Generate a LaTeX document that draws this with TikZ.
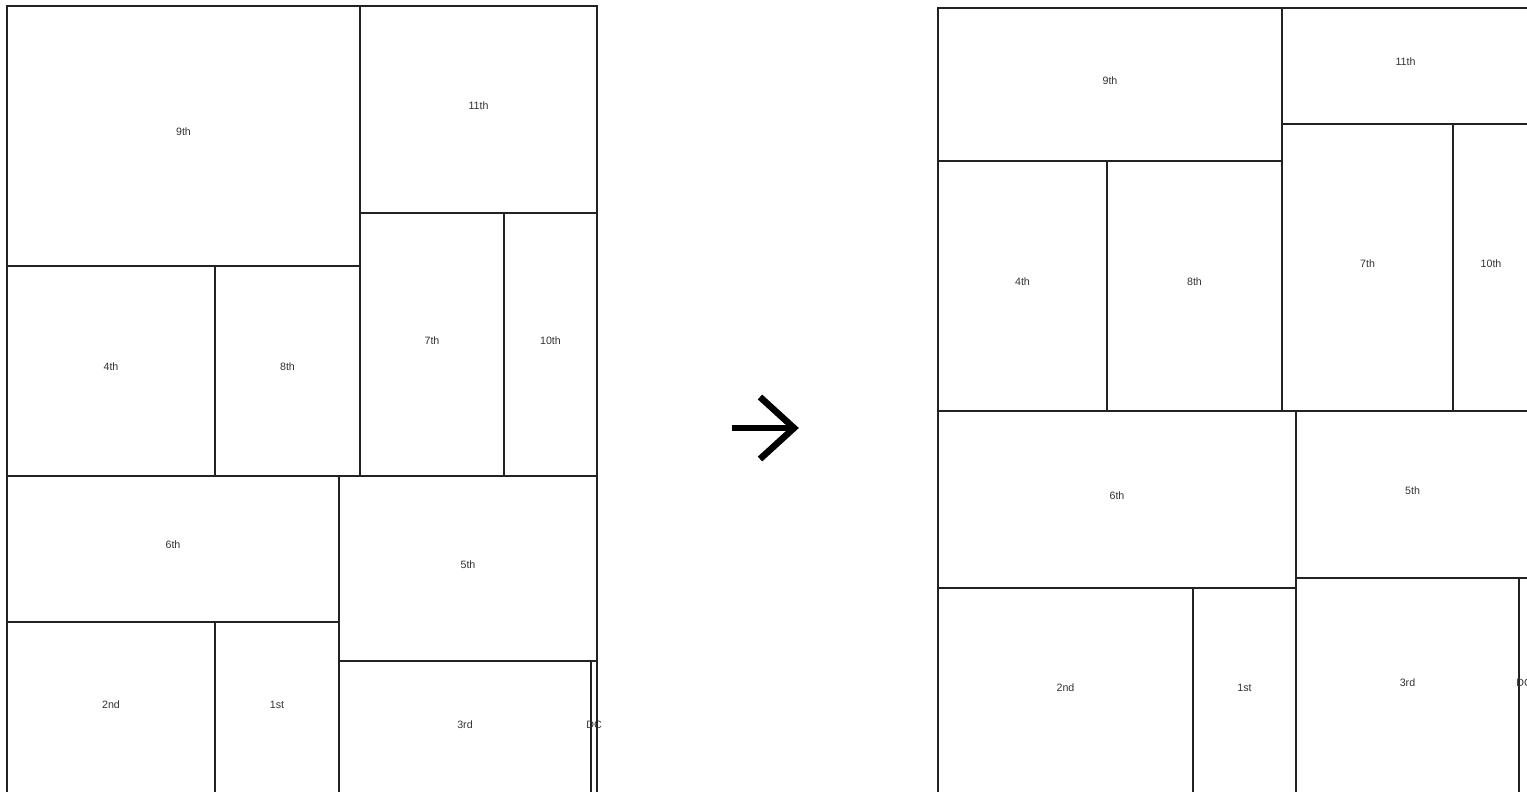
\documentclass[tikz,border=0pt]{standalone}
\usepackage{fontspec}
\setmainfont{Liberation Sans}
\definecolor{lineC}{HTML}{222222}
\definecolor{textC}{HTML}{333333}
\tikzset{
  cellline/.style={draw=lineC, line width=0.85pt},
  thickline/.style={draw=lineC, line width=1.5pt},
  lbl/.style={font=\fontsize{8}{9}\selectfont, text=textC, inner sep=0pt},
  bigarrow/.style={draw=black, line width=4.9pt, miter limit=10},
}
\newcommand\tmcell[6]{%
  \draw[cellline] (#2,#3) rectangle (#4,#5);
  \node[lbl] (#1) at ({(#2+#4)/2},{(#3+#5)/2-4}) {#6};
}
\begin{document}
\begin{tikzpicture}[x=0.75pt, y=-0.75pt]
\useasboundingbox (0,0) rectangle (1527,792);
\fill[white] (0,0) rectangle (1527,792);
\clip (0,0) rectangle (1527,792);
% ---------- left treemap ----------
\tmcell{La9}{7}{6}{360}{266}{9th}
\tmcell{La11}{360}{6}{597}{213}{11th}
\tmcell{La4}{7}{266}{215}{476}{4th}
\tmcell{La8}{215}{266}{360}{476}{8th}
\tmcell{La7}{360}{213}{504}{476}{7th}
\tmcell{La10}{504}{213}{597}{476}{10th}
\tmcell{La6}{7}{476}{339}{622}{6th}
\tmcell{La5}{339}{476}{597}{661}{5th}
\tmcell{La2}{7}{622}{215}{796}{2nd}
\tmcell{La1}{215}{622}{339}{796}{1st}
\tmcell{La3}{339}{661}{591}{796}{3rd}
\tmcell{LaDC}{591}{661}{597}{796}{DC}
\draw[thickline] (360,6) -- (360,476);
\draw[thickline] (7,476) -- (597,476);
\draw[thickline] (597,6) -- (597,796);
\draw[thickline] (360,213) -- (597,213);
\draw[thickline] (339,661) -- (597,661);
% ---------- arrow ----------
\coordinate (arS) at (732,428);
\coordinate (arE) at (794,428);
\coordinate (arU) at (760,397);
\coordinate (arD) at (760,459);
\draw[bigarrow] (arS) -- (arE);
\draw[bigarrow] (arU) -- (arE) -- (arD);
% ---------- right treemap ----------
\tmcell{Rb9}{938}{8}{1282}{161}{9th}
\tmcell{Rb11}{1282}{8}{1529}{124}{11th}
\tmcell{Rb4}{938}{161}{1107}{411}{4th}
\tmcell{Rb8}{1107}{161}{1282}{411}{8th}
\tmcell{Rb7}{1282}{124}{1453}{411}{7th}
\tmcell{Rb10}{1453}{124}{1529}{411}{10th}
\tmcell{Rb6}{938}{411}{1296}{588}{6th}
\tmcell{Rb5}{1296}{411}{1529}{578}{5th}
\tmcell{Rb2}{938}{588}{1193}{796}{2nd}
\tmcell{Rb1}{1193}{588}{1296}{796}{1st}
\tmcell{Rb3}{1296}{578}{1519}{796}{3rd}
\tmcell{RbDC}{1519}{578}{1529}{796}{DC}
\end{tikzpicture}
\end{document}
